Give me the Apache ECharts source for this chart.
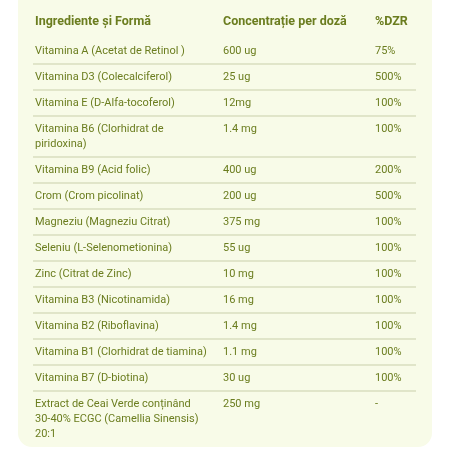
<!DOCTYPE html>
<html><head><meta charset="utf-8">
<script src="https://cdn.jsdelivr.net/npm/echarts@6/dist/echarts.min.js"></script>
<style>html,body{margin:0;background:#fff}#c{width:450px;height:450px}</style></head>
<body><div id="c"></div>
<script>
const headers = ["Ingrediente și Formă", "Concentrație per doză", "%DZR"];
const ingredients = ["Vitamina A (Acetat de Retinol )", "Vitamina D3 (Colecalciferol)", "Vitamina E (D-Alfa-tocoferol)", "Vitamina B6 (Clorhidrat de\npiridoxina)", "Vitamina B9 (Acid folic)", "Crom (Crom picolinat)", "Magneziu (Magneziu Citrat)", "Seleniu (L-Selenometionina)", "Zinc (Citrat de Zinc)", "Vitamina B3 (Nicotinamida)", "Vitamina B2 (Riboflavina)", "Vitamina B1 (Clorhidrat de tiamina)", "Vitamina B7 (D-biotina)", "Extract de Ceai Verde conținând\n30-40% ECGC (Camellia Sinensis)\n20:1"];
const doses = ["600 ug", "25 ug", "12mg", "1.4 mg", "400 ug", "200 ug", "375 mg", "55 ug", "10 mg", "16 mg", "1.4 mg", "1.1 mg", "30 ug", "250 mg"];
const dzr = ["75%", "500%", "100%", "100%", "200%", "500%", "100%", "100%", "100%", "100%", "100%", "100%", "100%", "-"];

const color = "#6b7d1f";
const font = "Roboto, sans-serif";
const colX = [35, 223, 375];
const els = [{type:'rect', shape:{x:18,y:-12,width:414,height:459,r:14}, style:{fill:'#f8fbe8'}}];
headers.forEach((h,i)=>els.push({type:'text', x:colX[i], y:22, style:{text:h, fill:color, font:'bold 12.5px '+font, textVerticalAlign:'middle'}}));
let y = 38;
const lh = 15;
ingredients.forEach((ing,r)=>{
  const n = ing.split('\n').length;
  const h = 26 + (n-1)*lh;
  const ty = y + 13;
  [ing, doses[r], dzr[r]].forEach((t,i)=>els.push({type:'text', x:colX[i], y:ty - 7, style:{text:t, fill:color, font:'11px '+font, lineHeight:lh, textVerticalAlign:'top'}}));
  y += h;
  if (r < ingredients.length-1) els.push({type:'line', shape:{x1:33,y1:y,x2:416,y2:y}, style:{stroke:'#c9cfaa', lineWidth:1}});
});
const chart = echarts.init(document.getElementById('c'));
chart.setOption({graphic:{elements:els}});
</script></body></html>
